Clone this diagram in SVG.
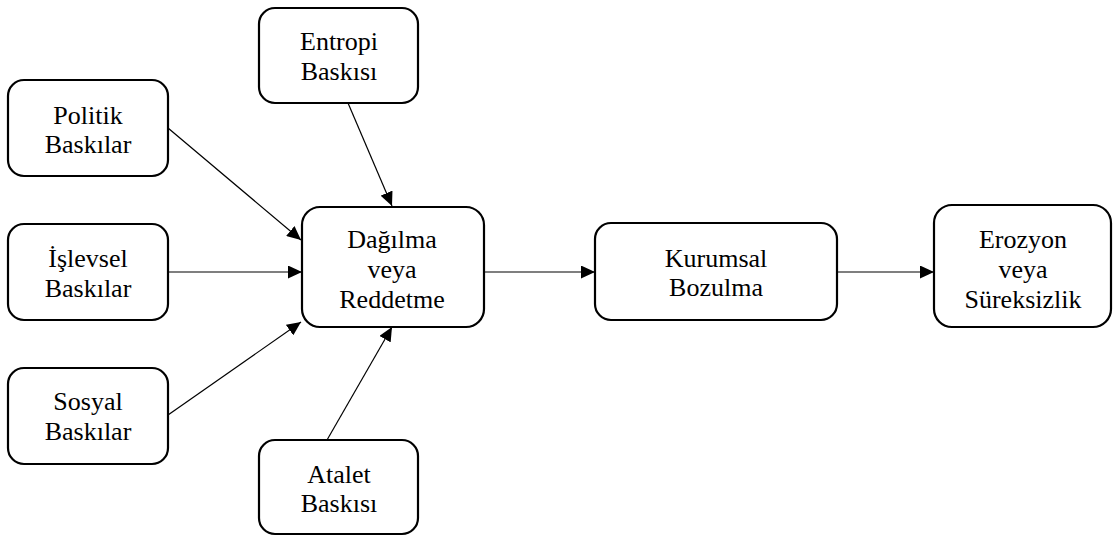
<svg xmlns="http://www.w3.org/2000/svg" width="1113" height="536" viewBox="0 0 1113 536">
  <defs>
    <marker id="head" markerUnits="userSpaceOnUse" markerWidth="15" markerHeight="13" refX="14" refY="6.5" orient="auto">
      <path d="M0,0 L14,6.5 L0,13 Z" fill="#000000"/>
    </marker>
  </defs>
  <rect width="1113" height="536" fill="#ffffff"/>

  <!-- connectors -->
  <g id="connectors" stroke="#000000" stroke-width="1.2" fill="none" marker-end="url(#head)">
    <line x1="168" y1="128" x2="301" y2="240"/>
    <line x1="348" y1="103" x2="392" y2="206"/>
    <line x1="168" y1="272" x2="302" y2="272"/>
    <line x1="168" y1="415" x2="301" y2="322"/>
    <line x1="327" y1="440" x2="392" y2="327"/>
    <line x1="484" y1="272" x2="595" y2="272"/>
    <line x1="837" y1="272" x2="934" y2="272"/>
  </g>

  <!-- nodes: rounded boxes with centred serif labels -->
  <g font-family="Liberation Serif" font-size="26" text-anchor="middle" fill="#000000">
    <g id="politik">
      <rect x="8" y="80" width="160" height="96" rx="16" fill="#ffffff" stroke="#000000" stroke-width="2.2"/>
      <text x="88" y="124">Politik</text>
      <text x="88" y="153">Baskılar</text>
    </g>
    <g id="islevsel">
      <rect x="8" y="224" width="160" height="96" rx="16" fill="#ffffff" stroke="#000000" stroke-width="2.2"/>
      <text x="88" y="267">İşlevsel</text>
      <text x="88" y="297">Baskılar</text>
    </g>
    <g id="sosyal">
      <rect x="8" y="368" width="160" height="96" rx="16" fill="#ffffff" stroke="#000000" stroke-width="2.2"/>
      <text x="88" y="410">Sosyal</text>
      <text x="88" y="440">Baskılar</text>
    </g>
    <g id="entropi">
      <rect x="259" y="8" width="159" height="95" rx="16" fill="#ffffff" stroke="#000000" stroke-width="2.2"/>
      <text x="339" y="50">Entropi</text>
      <text x="339" y="80">Baskısı</text>
    </g>
    <g id="atalet">
      <rect x="259" y="440" width="159" height="94" rx="16" fill="#ffffff" stroke="#000000" stroke-width="2.2"/>
      <text x="339" y="483">Atalet</text>
      <text x="339" y="512">Baskısı</text>
    </g>
    <g id="dagilma">
      <rect x="302" y="207" width="182" height="120" rx="18" fill="#ffffff" stroke="#000000" stroke-width="2.2"/>
      <text x="392" y="248">Dağılma</text>
      <text x="392" y="278">veya</text>
      <text x="392" y="308">Reddetme</text>
    </g>
    <g id="kurumsal">
      <rect x="595" y="223" width="242" height="97" rx="16" fill="#ffffff" stroke="#000000" stroke-width="2.2"/>
      <text x="716" y="267">Kurumsal</text>
      <text x="716" y="296">Bozulma</text>
    </g>
    <g id="erozyon">
      <rect x="934" y="205" width="177" height="122" rx="18" fill="#ffffff" stroke="#000000" stroke-width="2.2"/>
      <text x="1023" y="248">Erozyon</text>
      <text x="1023" y="278">veya</text>
      <text x="1023" y="308">Süreksizlik</text>
    </g>
  </g>
</svg>
